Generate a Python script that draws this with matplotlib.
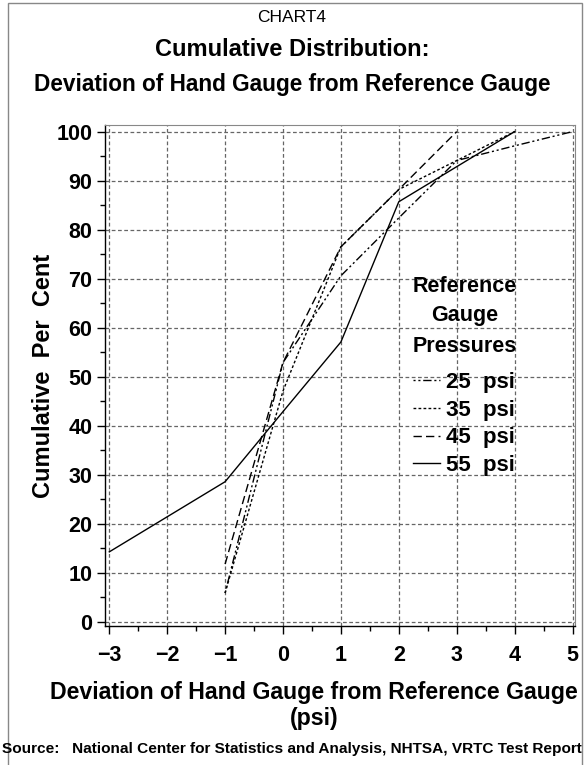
import numpy as np
import matplotlib
matplotlib.use("Agg")
import matplotlib.pyplot as plt
from matplotlib.patches import Rectangle

# cumulative per cent by deviation (psi) for each reference pressure
dev_25 = [-1, 0, 1, 2, 3, 4, 5]
pct_25 = [5.9, 52.9, 70.6, 82.4, 94.1, 97.1, 100.0]

dev_35 = [-1, 0, 1, 2, 3, 4]
pct_35 = [5.9, 47.1, 76.5, 88.2, 94.1, 100.0]

dev_45 = [-1, 0, 1, 2, 3]
pct_45 = [11.8, 52.9, 76.5, 88.2, 100.0]

dev_55 = [-3, -1, 0, 1, 2, 4]
pct_55 = [14.3, 28.6, 42.9, 57.1, 85.7, 100.0]

x_ticks = [-3, -2, -1, 0, 1, 2, 3, 4, 5]
x_labels = ["\u22123", "\u22122", "\u22121", "0", "1", "2", "3", "4", "5"]
y_ticks = list(range(0, 101, 10))

plt.rcParams["font.family"] = ["Liberation Sans", "DejaVu Sans"]

W, H = 584, 765
fig = plt.figure(figsize=(W / 100, H / 100), dpi=100)
ax = fig.add_axes([105 / W, 1 - 626 / H, 470 / W, 501 / H])

lw = 1.0
ax.plot(dev_25, pct_25, color="black", lw=lw, ls=(0, (1.5, 2, 1.5, 2, 6, 2)), label="25  psi")
ax.plot(dev_35, pct_35, color="black", lw=lw, ls=(0, (2, 1.6)), label="35  psi")
ax.plot(dev_45, pct_45, color="black", lw=lw, ls=(0, (6, 3)), label="45  psi")
ax.plot(dev_55, pct_55, color="black", lw=lw, ls="-", label="55  psi")

ax.set_xlim(-3.074, 5.043)
ax.set_ylim(-0.82, 101.35)
ax.set_xticks(x_ticks)
ax.set_xticklabels(x_labels)
ax.set_xticks(np.arange(-3, 5.01, 0.5), minor=True)
ax.set_yticks(y_ticks)
ax.set_yticks(np.arange(0, 101, 5), minor=True)

for t in ax.get_xticklabels() + ax.get_yticklabels():
    t.set_fontweight("bold")
    t.set_fontsize(15.5)
ax.tick_params(which="major", length=6, width=1, color="black")
ax.tick_params(axis="y", which="major", pad=3)
ax.tick_params(axis="x", which="major", pad=8)
ax.tick_params(which="minor", length=3.5, width=1, color="black")

ax.grid(True, which="major", color="#666666", ls=(0, (3, 2)), lw=0.9)
ax.set_axisbelow(True)

for side in ["top", "right"]:
    ax.spines[side].set_color("#888888")
for side in ["left", "bottom"]:
    ax.spines[side].set_color("black")
    ax.spines[side].set_linewidth(1.0)

# legend heading, then the line samples
for i, line in enumerate(["Reference", "Gauge", "Pressures"]):
    ax.text((465 - 105) / 470, (626 - (286 + 30 * i)) / 501, line, transform=ax.transAxes,
            ha="center", va="center", fontsize=15.5, fontweight="bold")
leg = ax.legend(frameon=False, loc="upper left", bbox_to_anchor=(0.655, 0.507),
                fontsize=16, handlelength=1.2, handletextpad=0.3, labelspacing=0.3,
                borderaxespad=0, borderpad=0)
for t in leg.get_texts():
    t.set_fontweight("bold")

ax.set_ylabel("Cumulative  Per  Cent", fontsize=17, fontweight="bold")
ax.yaxis.set_label_coords((55 - 105) / 470, 0.5)

fig.text(0.5, 1 - 17 / H, "CHART4", ha="center", va="center", fontsize=12.5)
fig.text(0.5, 1 - 50 / H, "Cumulative Distribution:", ha="center", va="center",
         fontsize=17, fontweight="bold")
fig.text(0.5, 1 - 85 / H, "Deviation of Hand Gauge from Reference Gauge", ha="center",
         va="center", fontsize=16.3, fontweight="bold")
fig.text(314 / W, 1 - 693 / H, "Deviation of Hand Gauge from Reference Gauge", ha="center",
         va="center", fontsize=16.7, fontweight="bold")
fig.text(314 / W, 1 - 718 / H, "(psi)", ha="center", va="center", fontsize=16.7, fontweight="bold")
fig.text(0.5, 1 - 749 / H, "Source:   National Center for Statistics and Analysis, NHTSA, VRTC Test Report",
         ha="center", va="center", fontsize=11.1, fontweight="bold")

fig.patches.append(Rectangle((8 / W, -0.01), 574 / W, 1 - 3 / H + 0.01, transform=fig.transFigure,
                             fill=False, edgecolor="#888888", lw=1.0))

fig.savefig("out.png", dpi=100)
